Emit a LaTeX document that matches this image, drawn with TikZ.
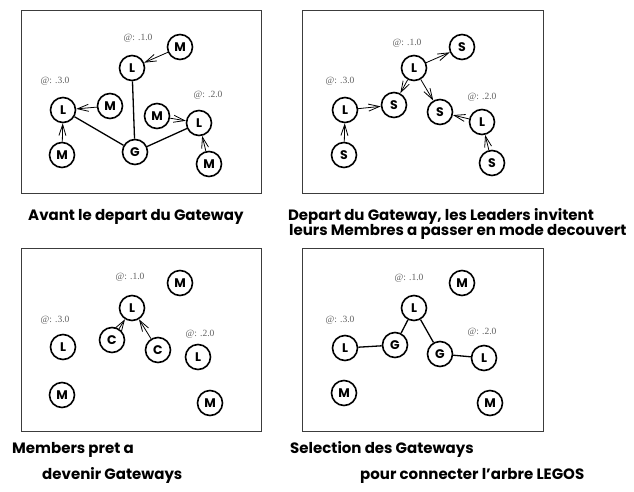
\documentclass[tikz,border=0pt]{standalone}
\usepackage{fontspec}
\setmainfont{Poppins}
\newfontfamily\addrfont{Liberation Serif}
\usetikzlibrary{arrows.meta}
\tikzset{
  nd/.style={circle, draw, line width=1.6pt, minimum size=25pt, inner sep=0pt,
    font=\bfseries\fontsize{12.5}{12.5}\selectfont},
  adr/.style={font=\addrfont\fontsize{9.5}{9.5}\selectfont, text={rgb,255:red,95;green,95;blue,95}, inner sep=0.75pt},
  lnk/.style={line width=1.3pt},
  inv/.style={line width=0.8pt, -{Straight Barb[length=11pt,width=7pt]}},
  capt/.style={anchor=base west, inner sep=0pt, font=\bfseries\fontsize{15}{15}\selectfont},
  frm/.style={line width=0.8pt, draw={rgb,255:red,60;green,60;blue,60}}
}
\begin{document}
\begin{tikzpicture}[x=1pt,y=1pt,yscale=-1,xscale=1]
\path[use as bounding box] (0,0) rectangle (634,491);

% Frames
\draw[frm] (21,10) rectangle (261,193);
\draw[frm] (302,10) rectangle (543,193);
\draw[frm] (21,248) rectangle (261,431);
\draw[frm] (302,248) rectangle (543,431);

% Panel 1 : avant le depart
\node[nd] (aL1) at (132,68) {L};
\node[nd] (aM1) at (180,47) {M};
\node[nd] (aL3) at (63,110) {L};
\node[nd] (aM3a) at (110,106) {M};
\node[nd] (aM3b) at (62,155) {M};
\node[nd] (aG) at (135,152) {G};
\node[nd] (aM2a) at (157,116) {M};
\node[nd] (aL2) at (199,123) {L};
\node[nd] (aM2b) at (209,164) {M};
\node[adr] (a1) at (138,38) {@: .1.0};
\node[adr] (a3) at (55,81) {@: .3.0};
\node[adr] (a2) at (208,95) {@: .2.0};
\draw[lnk] (aL1) -- (aG);
\draw[lnk] (aL3) -- (aG);
\draw[lnk] (aG) -- (aL2);
\draw[inv] (aM1) -- (aL1);
\draw[inv] (aM3a) -- (aL3);
\draw[inv] (aM3b) -- (aL3);
\draw[inv] (aM2a) -- (aL2);
\draw[inv] (aM2b) -- (aL2);

% Panel 2 : invitation des membres
\node[nd] (bL1) at (414,68) {L};
\node[nd] (bS1) at (462,47) {S};
\node[nd] (bL3) at (345,110) {L};
\node[nd] (bS3a) at (394,105) {S};
\node[nd] (bS2a) at (440,112) {S};
\node[nd] (bL2) at (482,122) {L};
\node[nd] (bS3b) at (344,155) {S};
\node[nd] (bS2b) at (492,163) {S};
\node[adr] (b1) at (407,43) {@: .1.0};
\node[adr] (b3) at (340,81) {@: .3.0};
\node[adr] (b2) at (482,97) {@: .2.0};
\draw[inv] (bL1) -- (bS1);
\draw[inv] (bL1) -- (bS3a);
\draw[inv] (bL1) -- (bS2a);
\draw[inv] (bL3) -- (bS3a);
\draw[inv] (bL2) -- (bS2a);
\draw[inv] (bS3b) -- (bL3);
\draw[inv] (bS2b) -- (bL2);

% Panel 3 : candidats
\node[nd] (cL1) at (132,308) {L};
\node[nd] (cM1) at (180,283) {M};
\node[nd] (cL3) at (63,347) {L};
\node[nd] (cC3) at (112,340) {C};
\node[nd] (cC2) at (158,350) {C};
\node[nd] (cL2) at (198,357) {L};
\node[nd] (cM3) at (62,395) {M};
\node[nd] (cM2) at (210,403) {M};
\node[adr] (c1) at (130,277) {@: .1.0};
\node[adr] (c3) at (55,320) {@: .3.0};
\node[adr] (c2) at (200,334) {@: .2.0};
\draw[inv] (cC3) -- (cL1);
\draw[inv] (cC2) -- (cL1);

% Panel 4 : gateways choisis
\node[nd] (dL1) at (414,308) {L};
\node[nd] (dM1) at (462,283) {M};
\node[nd] (dL3) at (345,348) {L};
\node[nd] (dG3) at (395,345) {G};
\node[nd] (dG2) at (440,354) {G};
\node[nd] (dL2) at (484,358) {L};
\node[nd] (dM3) at (344,393) {M};
\node[nd] (dM2) at (490,403) {M};
\node[adr] (d1) at (409,278) {@: .1.0};
\node[adr] (d3) at (340,320) {@: .3.0};
\node[adr] (d2) at (482,332) {@: .2.0};
\draw[lnk] (dL3) -- (dG3);
\draw[lnk] (dG3) -- (dL1);
\draw[lnk] (dL1) -- (dG2);
\draw[lnk] (dG2) -- (dL2);

% Text Node
\node[capt] (t1) at (28,220) {Avant le depart du Gateway};
\node[capt, anchor=base] (t2a) at (441,220) {Depart du Gateway, les Leaders invitent};
\node[capt] (t2b) at (289,235) {leurs Membres a passer en mode decouvert};
\node[capt] (t3a) at (12,453) {Members pret a};
\node[capt] (t3b) at (42,479) {devenir Gateways};
\node[capt] (t4a) at (290,453) {Selection des Gateways};
\node[capt] (t4b) at (360,479) {pour connecter l'arbre LEGOS};

\end{tikzpicture}
\end{document}
